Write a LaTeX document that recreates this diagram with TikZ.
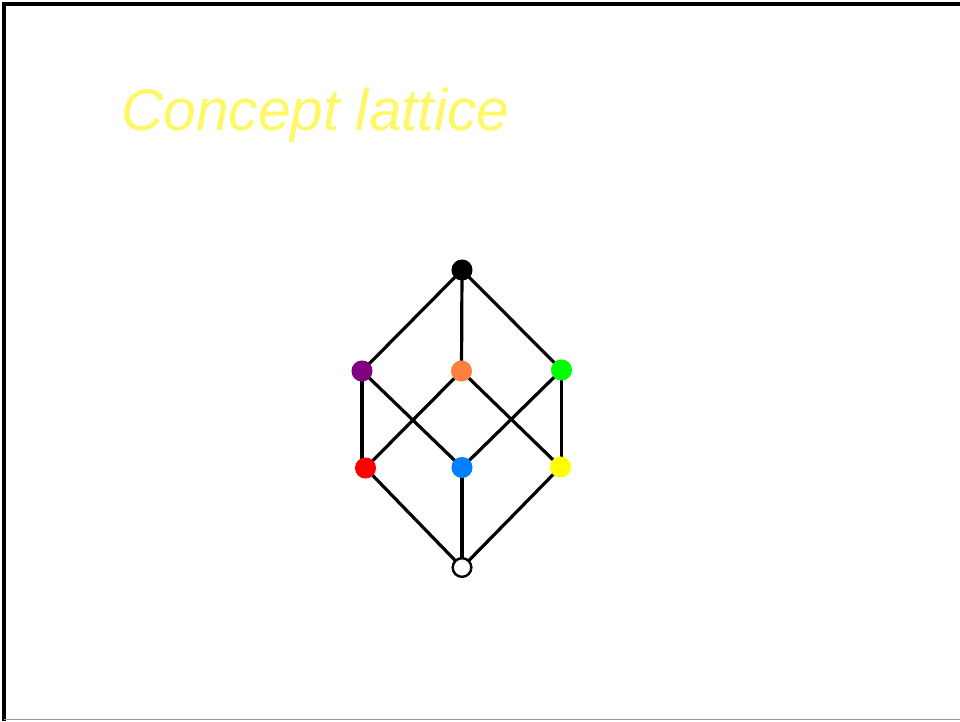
\documentclass[tikz,border=0pt]{standalone}
\usepackage{fontspec}
\setmainfont{Liberation Sans}
\usetikzlibrary{backgrounds}
\begin{document}
\begin{tikzpicture}[x=0.75pt,y=-0.75pt,
  dot/.style={circle,inner sep=0pt,minimum size=15.8pt,draw=none},
  edge/.style={line width=2.4pt,black}]
\useasboundingbox (0,0) rectangle (960,721);
% frame
\draw[line width=2.4pt,black] (4,721) -- (4,4) -- (960,4);
\draw[line width=1.2pt,gray!80] (4,719.5) -- (960,719.5);
% title
\node[anchor=base west,inner sep=0pt,text=yellow!60!white,font=\fontsize{44}{50}\selectfont\itshape] (title) at (121,130) {Concept lattice};
% nodes
\node[dot,fill=black] (top) at (462,270) {};
\node[dot,fill={rgb,255:red,128;green,0;blue,128}] (pu) at (362,371) {};
\node[dot,fill={rgb,255:red,255;green,128;blue,64}] (or) at (461.5,371) {};
\node[dot,fill={rgb,255:red,0;green,255;blue,0}] (gr) at (561.5,370) {};
\node[dot,fill={rgb,255:red,255;green,0;blue,0}] (re) at (365.5,468) {};
\node[dot,fill={rgb,255:red,0;green,128;blue,255}] (bl) at (462,467.5) {};
\node[dot,fill={rgb,255:red,255;green,255;blue,0}] (ye) at (560.5,467) {};
\node[dot,fill=white,draw=black,line width=1.8pt,minimum size=14pt] (bo) at (462,567.5) {};
% edges
\begin{pgfonlayer}{background}
\draw[edge] (top.center) -- (pu.center);
\draw[edge] (top.center) -- (or.center);
\draw[edge] (top.center) -- (gr.center);
\draw[edge] (pu.center) -- (pu |- re);
\draw[edge] (pu.center) -- (bl.center);
\draw[edge] (or.center) -- (re.center);
\draw[edge] (or.center) -- (ye.center);
\draw[edge] (gr.center) -- (bl.center);
\draw[edge] (gr.center) -- (gr |- ye);
\draw[edge] (re.center) -- (bo.center);
\draw[edge] (bl.center) -- (bo.center);
\draw[edge] (ye.center) -- (bo.center);
\end{pgfonlayer}
\end{tikzpicture}
\end{document}
